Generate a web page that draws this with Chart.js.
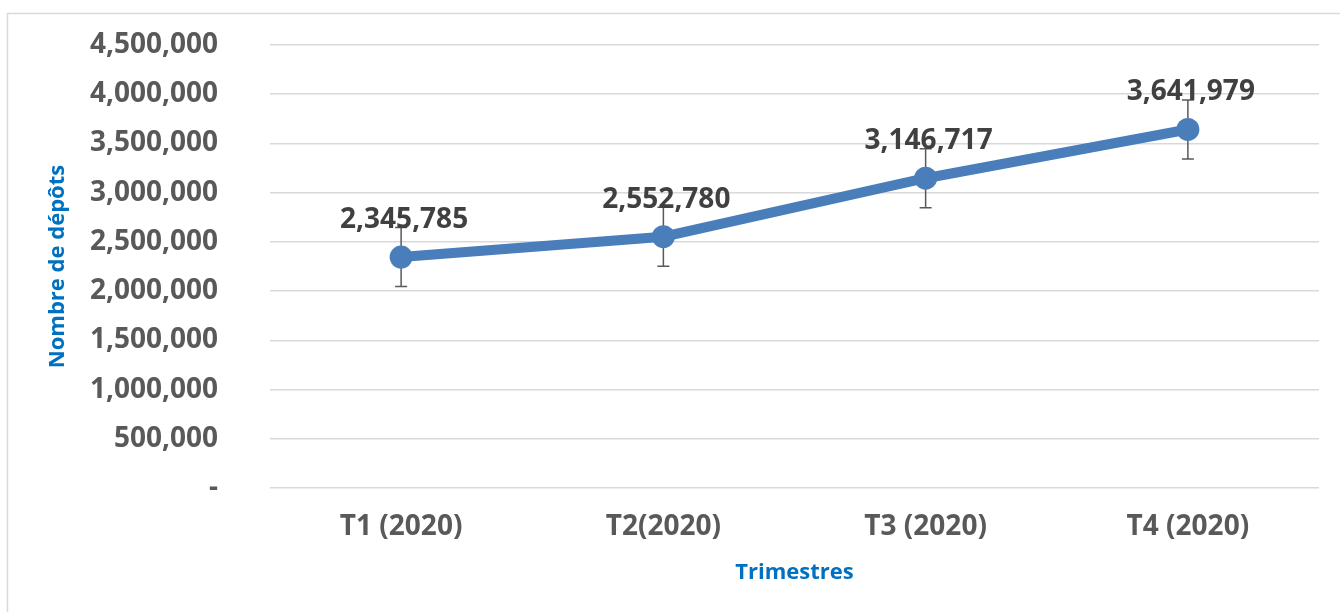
<!DOCTYPE html>
<html>
<head>
<meta charset="utf-8">
<script src="https://cdn.jsdelivr.net/npm/chart.js@4/dist/chart.umd.min.js"></script>
<style>
  html, body { margin: 0; padding: 0; background: #ffffff; overflow: hidden; }
  #wrap { position: relative; width: 1340px; height: 612px; }
</style>
</head>
<body>
<div id="wrap"><canvas id="c" width="1340" height="612"></canvas></div>
<script>
// ---- data ----
const categories = ['T1 (2020)', 'T2(2020)', 'T3 (2020)', 'T4 (2020)'];
const depots = [2345785, 2552780, 3146717, 3641979];
const errorAmounts = [300000, 300000, 300000, 300000];
const yMin = 0;
const yMax = 4500000;
const yStep = 500000;
const xTitle = 'Trimestres';
const yTitle = 'Nombre de dépôts';

const FONT = "'Open Sans', 'DejaVu Sans', sans-serif";
const fmt = v => v === 0 ? '-' : v.toLocaleString('en-US');

const frame = {
  id: 'frame',
  beforeDraw(chart) {
    const ctx = chart.ctx;
    ctx.save();
    ctx.fillStyle = '#ffffff';
    ctx.fillRect(0, 0, chart.width, chart.height);
    ctx.strokeStyle = '#d9d9d9';
    ctx.lineWidth = 1.5;
    ctx.strokeRect(7.5, 13.5, chart.width + 50, chart.height + 50);
    ctx.restore();
  }
};

const errorBars = {
  id: 'errorBars',
  beforeDatasetsDraw(chart) {
    const ctx = chart.ctx;
    const meta = chart.getDatasetMeta(0);
    const y = chart.scales.y;
    ctx.save();
    ctx.strokeStyle = '#595959';
    ctx.lineWidth = 1.5;
    meta.data.forEach((pt, i) => {
      const v = depots[i], e = errorAmounts[i];
      const yTop = y.getPixelForValue(v + e);
      const yBot = y.getPixelForValue(v - e);
      const x = pt.x;
      ctx.beginPath();
      ctx.moveTo(x, yTop); ctx.lineTo(x, yBot);
      ctx.moveTo(x - 6, yTop); ctx.lineTo(x + 6, yTop);
      ctx.moveTo(x - 6, yBot); ctx.lineTo(x + 6, yBot);
      ctx.stroke();
    });
    ctx.restore();
  }
};

const dataLabels = {
  id: 'dataLabels',
  afterDatasetsDraw(chart) {
    const ctx = chart.ctx;
    const meta = chart.getDatasetMeta(0);
    ctx.save();
    ctx.font = `bold 28px ${FONT}`;
    ctx.fillStyle = '#404040';
    ctx.textAlign = 'center';
    ctx.textBaseline = 'middle';
    meta.data.forEach((pt, i) => {
      ctx.fillText(fmt(depots[i]), pt.x + 3, pt.y - 37);
    });
    ctx.restore();
  }
};

new Chart(document.getElementById('c'), {
  type: 'line',
  data: {
    labels: categories,
    datasets: [{
      data: depots,
      borderColor: '#4a7ebb',
      backgroundColor: '#4a7ebb',
      borderWidth: 10,
      pointRadius: 11.5,
      pointHoverRadius: 11.5,
      pointBackgroundColor: '#4a7ebb',
      pointBorderWidth: 0,
      tension: 0,
      fill: false
    }]
  },
  options: {
    responsive: false,
    animation: false,
    events: [],
    layout: { padding: { left: 0, top: 45, right: 21, bottom: 0 } },
    plugins: { legend: { display: false }, tooltip: { enabled: false } },
    scales: {
      x: {
        offset: true,
        grid: { display: false, drawTicks: false },
        border: { display: false },
        ticks: { color: '#595959', font: { family: FONT, size: 28, weight: 'bold' }, padding: 22, maxRotation: 0 },
        title: { display: true, text: xTitle, color: '#0070c0',
                 font: { family: FONT, size: 22, weight: 'bold' }, padding: { top: 0, bottom: 26 } },
        afterFit(s) { s.height = 124; }
      },
      y: {
        min: yMin, max: yMax,
        grid: { color: '#d9d9d9', lineWidth: 1.5, drawTicks: true, tickLength: 52, tickColor: 'rgba(0,0,0,0)' },
        border: { display: false },
        ticks: { stepSize: yStep, color: '#595959', font: { family: FONT, size: 28, weight: 'bold' },
                 padding: 0, callback: v => fmt(v) },
        title: { display: true, text: yTitle, color: '#0070c0',
                 font: { family: FONT, size: 22, weight: 'bold' }, padding: { top: 45, bottom: 0 } },
        afterFit(s) { s.width = 270; }
      }
    }
  },
  plugins: [frame, errorBars, dataLabels]
});
</script>
</body>
</html>
